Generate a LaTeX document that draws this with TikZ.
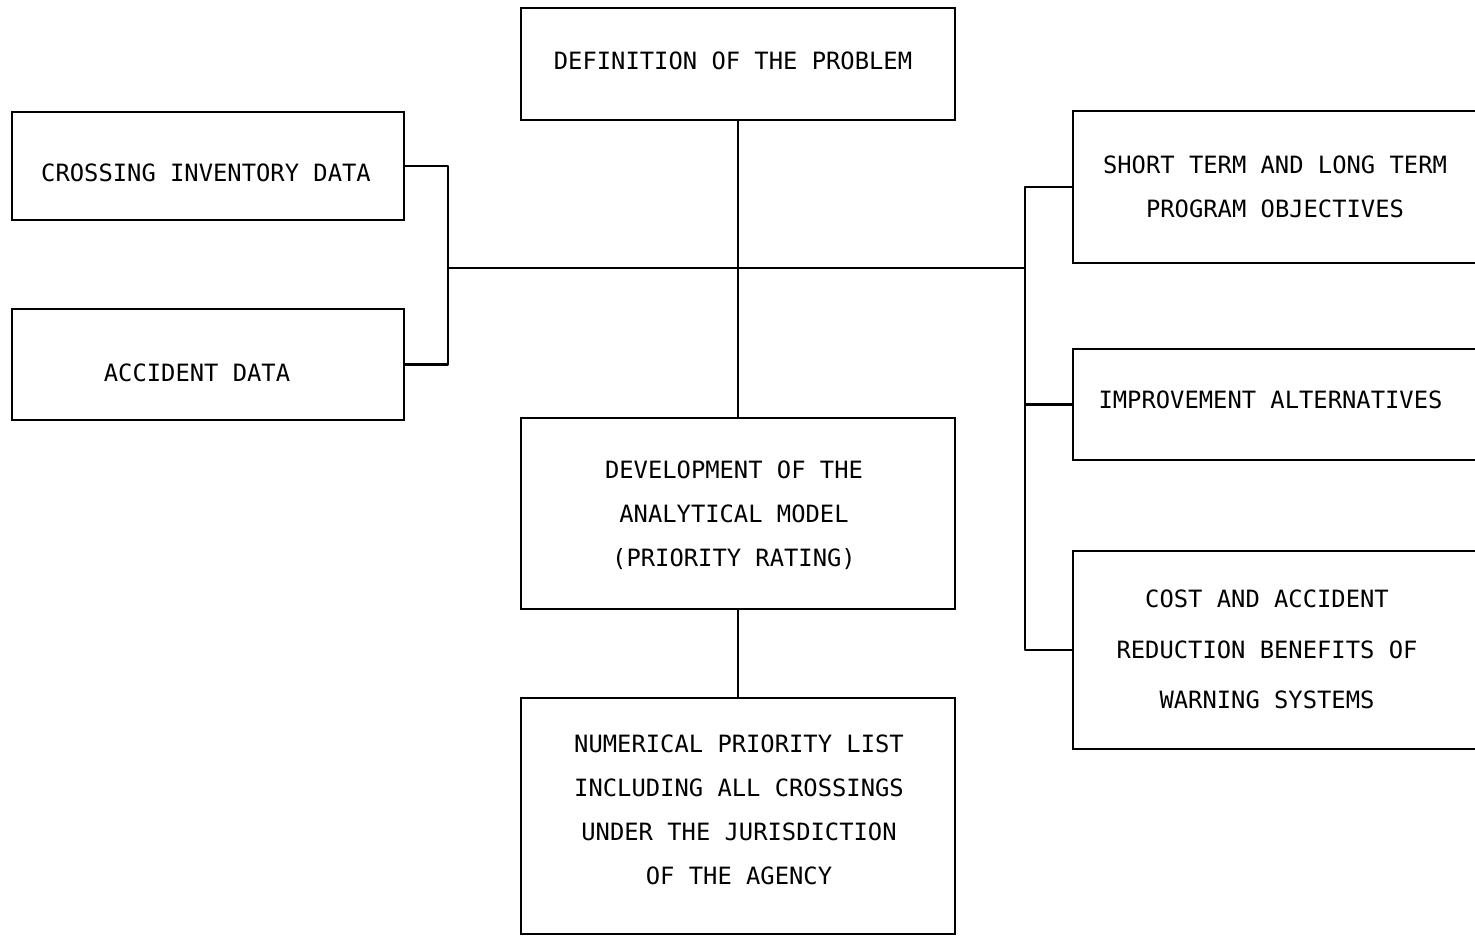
\documentclass[tikz,border=0pt]{standalone}
\usepackage{fontspec}
\newfontfamily\diafont{DejaVu Sans Mono}
\begin{document}
\begin{tikzpicture}[x=1pt,y=-1pt,
  box/.style={draw, line width=2.8pt, inner sep=0pt},
  txt/.style={inner sep=0pt, align=center, text height=17.3pt, text depth=0pt,
    font=\diafont\fontsize{23.8}{44}\selectfont},
  conn/.style={line width=2.8pt, line join=round}]
\useasboundingbox (0,0) rectangle (1475,936);
\clip (0,0) rectangle (1475,936);
% boxes
\node[box, minimum width=434pt, minimum height=112pt] (def) at (738,64) {};
\node[box, minimum width=392pt, minimum height=108pt] (cid) at (208,166) {};
\node[box, minimum width=392pt, minimum height=111pt] (acc) at (208,364.5) {};
\node[box, minimum width=434pt, minimum height=191pt] (dev) at (738,513.5) {};
\node[box, minimum width=434pt, minimum height=236pt] (num) at (738,816) {};
\node[box, minimum width=408pt, minimum height=152pt] (obj) at (1277,187) {};
\node[box, minimum width=408pt, minimum height=111pt] (imp) at (1277,404.5) {};
\node[box, minimum width=408pt, minimum height=198pt] (cost) at (1277,650) {};
% texts (positioned by the middle of the last line)
\node[txt] (def-t) at (733,61) {DEFINITION OF THE PROBLEM};
\node[txt] (cid-t) at (206,173) {CROSSING INVENTORY DATA};
\node[txt] (acc-t) at (197,373) {ACCIDENT DATA};
\node[txt] (dev-t) at (734,558) {DEVELOPMENT OF THE\\ANALYTICAL MODEL\\(PRIORITY RATING)};
\node[txt] (num-t) at (739,876) {NUMERICAL PRIORITY LIST\\INCLUDING ALL CROSSINGS\\UNDER THE JURISDICTION\\OF THE AGENCY};
\node[txt] (obj-t) at (1275,209) {SHORT TERM AND LONG TERM\\PROGRAM OBJECTIVES};
\node[txt] (imp-t) at (1270.5,400) {IMPROVEMENT ALTERNATIVES};
\node[txt, font=\diafont\fontsize{23.8}{50.5}\selectfont] (cost-t) at (1267,700) {COST AND ACCIDENT\\REDUCTION BENEFITS OF\\WARNING SYSTEMS};
% junction coordinates
\coordinate (lj) at (448,268);
\coordinate (rj) at (1025,268);
% connectors
\draw[conn] (def.south) -- (dev.north);
\draw[conn] (dev.south) -- (num.north);
\draw[conn] (cid.east) -| (lj) |- (acc.east);
\draw[conn] (lj) -- (rj);
\draw[conn] (obj.west) -| (rj) |- (cost.west);
\draw[conn] (imp.west) -- (imp.west -| rj);
\end{tikzpicture}
\end{document}
